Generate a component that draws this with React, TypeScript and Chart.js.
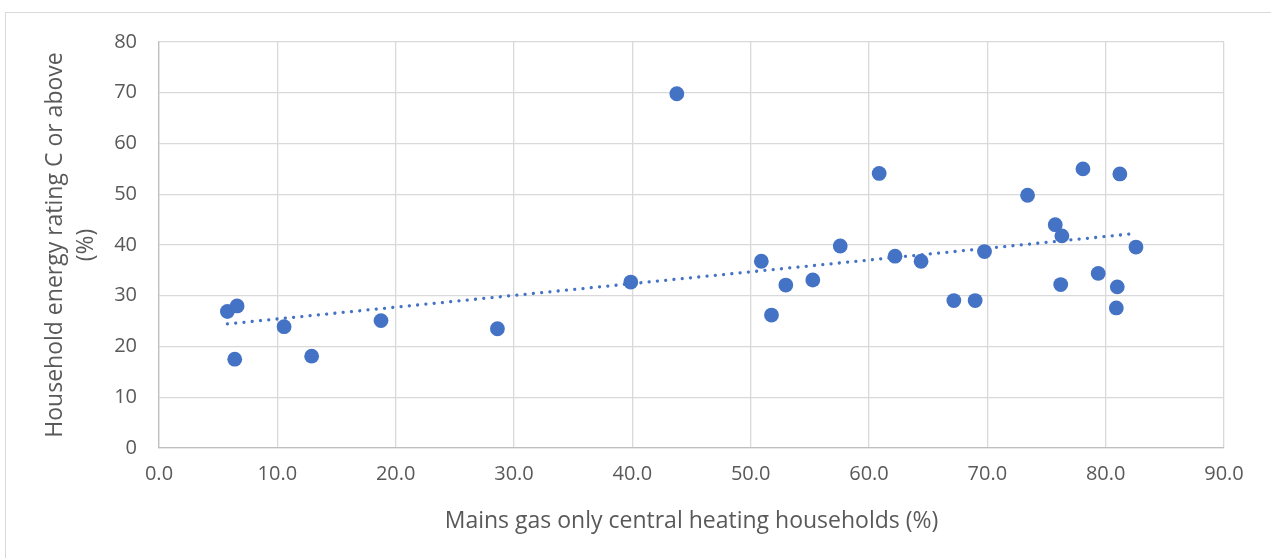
import React, { useEffect, useRef } from "react";
import { Chart, registerables } from "chart.js";

Chart.register(...registerables);

// Mains gas only central heating households (%)
const gasHouseholds: number[] = [
  5.78, 6.6, 6.4, 10.57, 12.9, 18.76, 28.6, 39.87, 43.76, 50.9,
  51.76, 52.97, 55.25, 57.57, 60.86, 62.2, 64.4, 67.17, 68.97, 69.76,
  73.4, 75.74, 76.3, 76.2, 78.08, 79.37, 81.2, 80.98, 80.9, 82.56,
];

// Household energy rating C or above (%)
const ratingCAbove: number[] = [
  26.9, 28.0, 17.5, 23.9, 18.1, 25.1, 23.5, 32.7, 69.8, 36.8,
  26.2, 32.1, 33.1, 39.8, 54.1, 37.8, 36.8, 29.05, 29.05, 38.7,
  49.8, 44.0, 41.8, 32.2, 55.0, 34.4, 54.0, 31.75, 27.6, 39.6,
];

const xTitle = "Mains gas only central heating households (%)";
const yTitle = ["Household energy rating C or above", "(%)"];

const BLUE = "#4472C4";
const FONT = "'Open Sans', 'Noto Sans', sans-serif";

function linearTrend(xs: number[], ys: number[]) {
  const n = xs.length;
  const mx = xs.reduce((a, b) => a + b, 0) / n;
  const my = ys.reduce((a, b) => a + b, 0) / n;
  let sxy = 0;
  let sxx = 0;
  for (let i = 0; i < n; i++) {
    sxy += (xs[i] - mx) * (ys[i] - my);
    sxx += (xs[i] - mx) * (xs[i] - mx);
  }
  const slope = sxy / sxx;
  const icpt = my - slope * mx;
  const x0 = Math.min(...xs);
  const x1 = Math.max(...xs);
  return [
    { x: x0, y: icpt + slope * x0 },
    { x: x1, y: icpt + slope * x1 },
  ];
}

export default function App() {
  const canvasRef = useRef<HTMLCanvasElement | null>(null);

  useEffect(() => {
    if (!canvasRef.current) return;
    const points = gasHouseholds.map((x, i) => ({ x, y: ratingCAbove[i] }));
    const trend = linearTrend(gasHouseholds, ratingCAbove);

    const chart = new Chart(canvasRef.current, {
      type: "scatter",
      data: {
        datasets: [
          {
            label: "Trend",
            type: "line",
            data: trend,
            borderColor: BLUE,
            borderWidth: 3.3,
            borderDash: [0.01, 8.3],
            borderCapStyle: "round",
            pointRadius: 0,
            fill: false,
            order: 0,
          } as any,
          {
            label: "Data",
            data: points,
            backgroundColor: BLUE,
            borderColor: BLUE,
            borderWidth: 0,
            pointRadius: 7.4,
            pointHoverRadius: 7.4,
            order: 1,
          },
        ],
      },
      options: {
        animation: false,
        responsive: false,
        maintainAspectRatio: false,
        layout: { padding: { top: 42, right: 47, left: 0, bottom: 0 } },
        plugins: {
          legend: { display: false },
          tooltip: { enabled: false },
        },
        scales: {
          x: {
            type: "linear",
            min: 0,
            max: 90,
            afterFit: (s: any) => {
              s.height = 110;
            },
            ticks: {
              stepSize: 10,
              padding: 14,
              color: "#595959",
              font: { family: FONT, size: 20 },
              callback: (v: any) => Number(v).toFixed(1),
            },
            grid: { color: "#d9d9d9", lineWidth: 1.3, drawTicks: false },
            border: { color: "#bfbfbf", width: 1.3 },
            title: {
              display: true,
              text: xTitle,
              color: "#595959",
              font: { family: FONT, size: 23 },
              padding: { top: 0, bottom: 23 },
            },
          },
          y: {
            type: "linear",
            min: 0,
            max: 80,
            afterFit: (s: any) => {
              s.width = 159;
            },
            ticks: {
              stepSize: 10,
              padding: 22,
              color: "#595959",
              font: { family: FONT, size: 20 },
            },
            grid: { color: "#d9d9d9", lineWidth: 1.3, drawTicks: false },
            border: { color: "#bfbfbf", width: 1.3 },
            title: {
              display: true,
              text: yTitle,
              color: "#595959",
              font: { family: FONT, size: 23, lineHeight: 1.35 },
              padding: { top: 40, bottom: 0 },
            },
          },
        },
      },
    });
    return () => chart.destroy();
  }, []);

  return (
    <div
      style={{
        position: "absolute",
        left: 0,
        top: 0,
        width: 1271,
        height: 558,
        overflow: "hidden",
        background: "#ffffff",
      }}
    >
      <div
        style={{
          position: "absolute",
          left: 5,
          top: 12,
          width: 1320,
          height: 620,
          border: "1px solid #d9d9d9",
        }}
      />
      <canvas
        ref={canvasRef}
        width={1271}
        height={558}
        style={{ position: "absolute", left: 0, top: 0, width: 1271, height: 558 }}
      />
    </div>
  );
}
